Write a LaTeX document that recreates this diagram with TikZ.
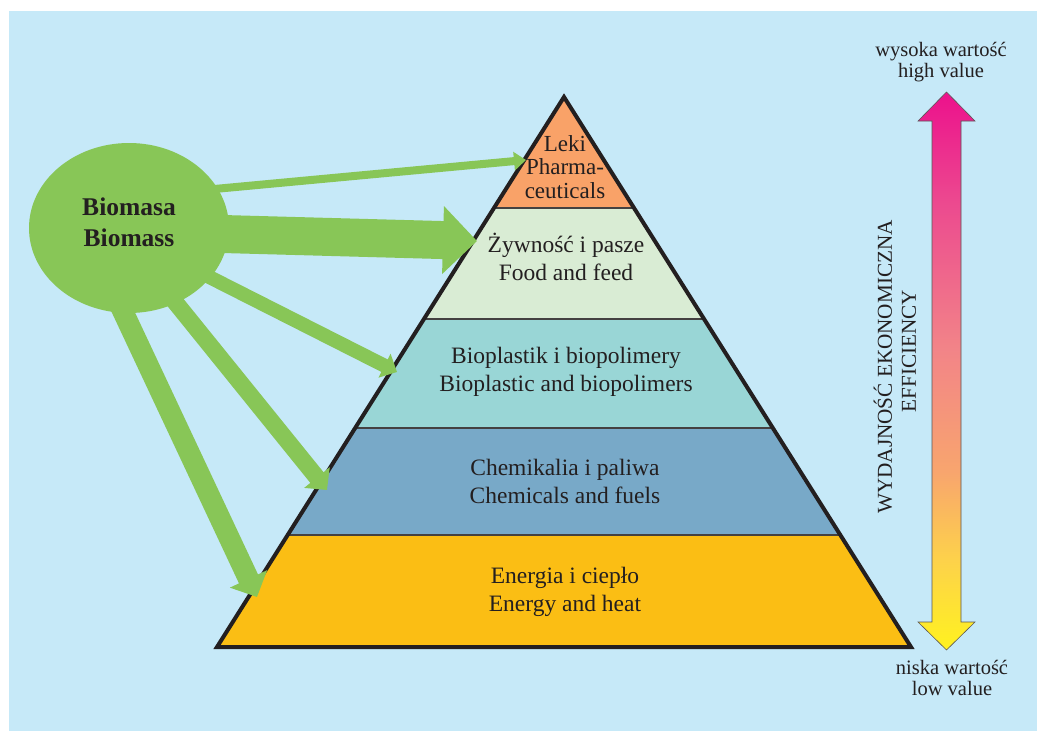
\documentclass[tikz,border=0pt]{standalone}
\usepackage{fontspec}
\setmainfont{Liberation Serif}
\usetikzlibrary{arrows.meta,shapes.geometric,calc}
\definecolor{bgblue}{HTML}{C6E9F8}
\definecolor{leaf}{HTML}{88C657}
\definecolor{ink}{HTML}{231F20}
\definecolor{cLeki}{HTML}{F9A268}
\definecolor{cFood}{HTML}{D9ECD4}
\definecolor{cBio}{HTML}{99D6D6}
\definecolor{cChem}{HTML}{78A9C8}
\definecolor{cEn}{HTML}{FBBE14}
\definecolor{gY}{HTML}{FFF21F}
\definecolor{gY2}{HTML}{FDD24A}
\definecolor{gO}{HTML}{F8A56E}
\definecolor{gS}{HTML}{F28488}
\definecolor{gP}{HTML}{EC4A8F}
\definecolor{gM}{HTML}{EC118C}
\pgfdeclareverticalshading{valgrad}{100bp}{color(0bp)=(gY); color(25bp)=(gY); color(33bp)=(gY2); color(41bp)=(gO); color(52bp)=(gS); color(65bp)=(gP); color(75bp)=(gM); color(100bp)=(gM)}
\begin{document}
\begin{tikzpicture}[x=1pt,y=-1pt,
  layertext/.style={text=ink,align=center,font=\fontsize{23.5}{28}\selectfont},
  sidetext/.style={text=ink,align=center,font=\fontsize{20.5}{21.5}\selectfont},
  divider/.style={draw=ink!85,line width=1.5pt},
  greenarrow/.style={draw=leaf,line cap=butt}]
\useasboundingbox (0,0) rectangle (1037,731);
\fill[bgblue] (9,11) rectangle (1037,731);

% pyramid
\coordinate (A) at (564,97);
\coordinate (BL) at (217,647);
\coordinate (BR) at (911,647);
\coordinate (L1) at ($(A)!0.2018!(BL)$); \coordinate (R1) at ($(A)!0.2018!(BR)$);
\coordinate (L2) at ($(A)!0.4036!(BL)$); \coordinate (R2) at ($(A)!0.4036!(BR)$);
\coordinate (L3) at ($(A)!0.6018!(BL)$); \coordinate (R3) at ($(A)!0.6018!(BR)$);
\coordinate (L4) at ($(A)!0.7964!(BL)$); \coordinate (R4) at ($(A)!0.7964!(BR)$);
\fill[cLeki] (A) -- (L1) -- (R1) -- cycle;
\fill[cFood] (L1) -- (L2) -- (R2) -- (R1) -- cycle;
\fill[cBio] (L2) -- (L3) -- (R3) -- (R2) -- cycle;
\fill[cChem] (L3) -- (L4) -- (R4) -- (R3) -- cycle;
\fill[cEn] (L4) -- (BL) -- (BR) -- (R4) -- cycle;
\draw[divider] (L1) -- (R1);
\draw[divider] (L2) -- (R2);
\draw[divider] (L3) -- (R3);
\draw[divider] (L4) -- (R4);
\draw[ink,line width=4pt,line join=miter] (A) -- (BL) -- (BR) -- cycle;

\node[layertext,font=\fontsize{23}{23.5}\selectfont] (leki) at (565,167) {Leki\\Pharma-\\ceuticals};
\node[layertext] (food) at (566,257) {Żywność i pasze\\Food and feed};
\node[layertext] (bio) at (566,372) {Bioplastik i biopolimery\\Bioplastic and biopolimers};
\node[layertext] (chem) at (565,481) {Chemikalia i paliwa\\Chemicals and fuels};
\node[layertext] (en) at (565,592) {Energia i ciepło\\Energy and heat};

% green arrows
\coordinate (s1) at (150,195); \coordinate (t1) at (526,160);
\coordinate (s2) at (150,232); \coordinate (t2) at (477,241);
\coordinate (s3) at (150,247); \coordinate (t3) at (397,372);
\coordinate (s4) at (146,266); \coordinate (t4) at (327,490);
\coordinate (s5) at (103,269); \coordinate (t5) at (257,597);
\draw[greenarrow,line width=8pt,-{Triangle[width=18pt,length=12pt,fill=leaf,color=leaf]}] (s1) -- (t1);
\draw[greenarrow,line width=38pt,-{Triangle[width=66pt,length=34pt,fill=leaf,color=leaf]}] (s2) -- (t2);
\draw[greenarrow,line width=14pt,-{Triangle[width=26pt,length=14pt,fill=leaf,color=leaf]}] (s3) -- (t3);
\draw[greenarrow,line width=17pt,-{Triangle[width=32pt,length=16pt,fill=leaf,color=leaf]}] (s4) -- (t4);
\draw[greenarrow,line width=21pt,-{Triangle[width=40pt,length=20pt,fill=leaf,color=leaf]}] (s5) -- (t5);

\node[ellipse,fill=leaf,minimum width=200pt,minimum height=170pt,inner sep=0pt,
  text=ink,align=center,font=\fontsize{25.5}{31}\selectfont\bfseries] (biomass) at (129,228) {};
\node[text=ink,align=center,font=\fontsize{25.5}{31}\selectfont\bfseries] (biotext) at (129,222) {Biomasa\\Biomass};

% value arrow
\shade[shading=valgrad,draw=ink!75,line width=0.6pt]
  (946.5,92) -- (975,121) -- (961,121) -- (961,622) -- (975,622) -- (946.5,650)
  -- (918,622) -- (932,622) -- (932,121) -- (918,121) -- cycle;
\node[sidetext] (high) at (941,62) {wysoka wartość\\high value};
\node[sidetext] (low) at (952,678) {niska wartość\\low value};
\node[text=ink,rotate=90,font=\fontsize{21.2}{24}\selectfont] (wyd) at (883,367) {WYDAJNOŚĆ EKONOMICZNA};
\node[text=ink,rotate=90,font=\fontsize{21.2}{24}\selectfont] (eff) at (909,351) {EFFICIENCY};
\end{tikzpicture}
\end{document}
